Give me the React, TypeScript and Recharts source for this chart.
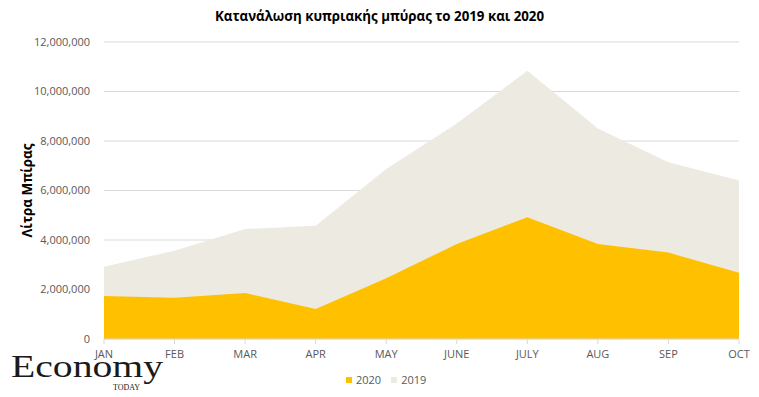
import React from "react";
import { AreaChart, Area, XAxis, YAxis, CartesianGrid } from "recharts";

const months = ["JAN", "FEB", "MAR", "APR", "MAY", "JUNE", "JULY", "AUG", "SEP", "OCT"];
const values2019 = [2920000, 3570000, 4440000, 4580000, 6870000, 8710000, 10840000, 8510000, 7140000, 6400000];
const values2020 = [1740000, 1670000, 1860000, 1210000, 2450000, 3840000, 4920000, 3840000, 3490000, 2680000];
const yTicks = [0, 2000000, 4000000, 6000000, 8000000, 10000000, 12000000];

const title = "Κατανάλωση κυπριακής μπύρας το 2019 και 2020";
const yLabel = "Λίτρα Μπίρας";

const data = months.map((m, i) => ({ month: m, y2019: values2019[i], y2020: values2020[i] }));

const FONT = "'Open Sans', 'Noto Sans', sans-serif";
const C2020 = "#FFC000";
const C2019 = "#EDEAE2";

const fmt = (v: number) => v.toLocaleString("en-US");

export default function App() {
  return (
    <div style={{ position: "absolute", left: 0, top: 0, width: 759, height: 397, background: "#fff", fontFamily: FONT, overflow: "hidden" }}>
      <AreaChart
        width={759}
        height={397}
        data={data}
        margin={{ top: 42, right: 20, bottom: 28, left: 0 }}
      >
        <CartesianGrid vertical={false} stroke="#d9d9d9" strokeWidth={1} />
        <XAxis
          dataKey="month"
          height={30}
          tickLine={{ stroke: "#d9d9d9" }}
          axisLine={{ stroke: "#d9d9d9" }}
          tickSize={5}
          tickMargin={6}
          tick={{ fill: "#595959", fontSize: 11, fontFamily: FONT }}
          interval={0}
        />
        <YAxis
          width={104}
          domain={[0, 12000000]}
          ticks={yTicks}
          tickFormatter={fmt}
          axisLine={false}
          tickLine={false}
          tickMargin={8}
          tick={{ fill: "#595959", fontSize: 11, fontFamily: FONT }}
          label={{
            value: yLabel,
            angle: -90,
            position: "insideLeft",
            offset: 0,
            dx: 27,
            style: { fill: "#000", fontSize: 13.5, fontWeight: 700, fontFamily: FONT, textAnchor: "middle" },
          }}
        />
        <Area type="linear" dataKey="y2019" stroke="none" fill={C2019} fillOpacity={1} isAnimationActive={false} />
        <Area type="linear" dataKey="y2020" stroke="none" fill={C2020} fillOpacity={1} isAnimationActive={false} />
      </AreaChart>
      <div
        style={{
          position: "absolute",
          top: 7,
          left: 0,
          width: 759,
          textAlign: "center",
          fontSize: 13.3,
          fontWeight: 700,
          color: "#000",
          fontFamily: FONT,
        }}
      >
        {title}
      </div>
      <div style={{ position: "absolute", top: 372, left: 346, display: "flex", alignItems: "center", fontSize: 11, color: "#595959", fontFamily: FONT }}>
        <span style={{ width: 6, height: 6, background: C2020, display: "inline-block", marginRight: 4 }} />
        <span style={{ marginRight: 10 }}>2020</span>
        <span style={{ width: 6, height: 6, background: C2019, display: "inline-block", marginRight: 4 }} />
        <span>2019</span>
      </div>
      <div style={{ position: "absolute", left: 11, top: 350, fontFamily: "'Liberation Serif', 'DejaVu Serif', serif", color: "#1a1a1a" }}>
        <div style={{ fontSize: 31, lineHeight: "34px", transform: "scaleX(1.28)", transformOrigin: "left top", whiteSpace: "nowrap" }}>Economy</div>
        <div style={{ position: "absolute", left: 102, top: 33, fontSize: 8, whiteSpace: "nowrap" }}>TODAY</div>
      </div>
    </div>
  );
}
